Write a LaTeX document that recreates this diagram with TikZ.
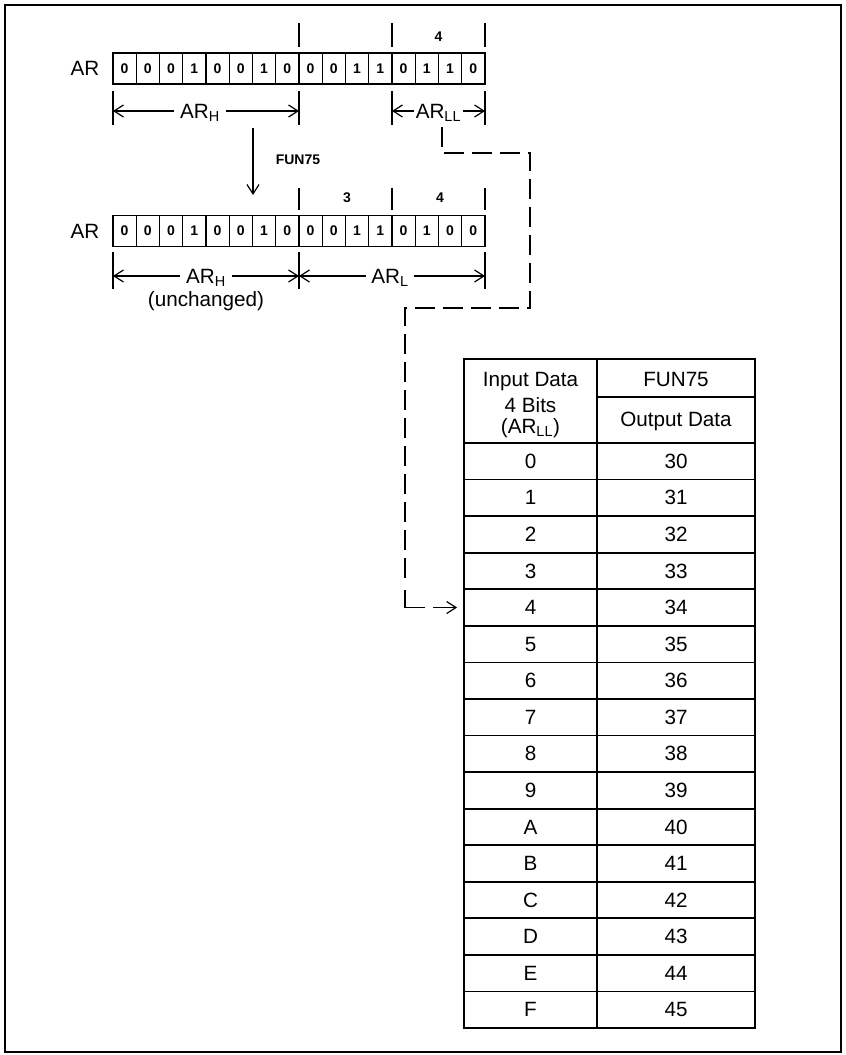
\documentclass[tikz,border=0pt]{standalone}
\usepackage{fontspec}
\setmainfont{Liberation Sans}
\usetikzlibrary{arrows.meta}
\begin{document}
\begin{tikzpicture}[x=0.75pt,y=-0.75pt,
  every node/.style={inner sep=0pt},
  txt/.style={font=\fontsize{15.5}{18}\selectfont},
  smallbold/.style={font=\fontsize{10.5}{12}\selectfont\bfseries},
  bitcell/.style={draw, line width=1.1pt, minimum width=17.44pt, minimum height=23.5pt, font=\fontsize{10.5}{12}\selectfont\bfseries},
  tick/.style={line width=1.1pt},
  dim/.style={line width=0.9pt, -{Straight Barb[length=7pt,width=9pt]}},
  dimlbl/.style={txt, anchor=base, inner xsep=4pt},
  dashline/.style={line width=1.4pt, dash pattern=on 15pt off 6pt},
  frame/.style={line width=1.4pt},
  tline/.style={line width=1.3pt},
]
\useasboundingbox (0,0) rectangle (845,1055);
\draw[frame] (5,5) rectangle (841,1052);

% ---------- register 1 ----------
\node[txt] (ar1) at (85,68.5) {AR};
\foreach \b [count=\i] in {0,0,0,1,0,0,1,0,0,0,1,1,0,1,1,0}
  \node[bitcell] (ra\i) at ({113+(\i-0.5)*23.25},68.5) {\b};
\draw[tick] (299,23) -- (299,47);
\draw[tick] (392,23) -- (392,47);
\draw[tick] (485,23) -- (485,47);
\node[smallbold] (top4a) at (438.5,37) {4};

% dimension row 1
\coordinate (a1A) at (113,111);
\coordinate (a1B) at (299,111);
\coordinate (a1C) at (392,111);
\coordinate (a1D) at (485,111);
\foreach \c in {a1A,a1B,a1C,a1D}
  \draw[tick] ([yshift=15pt]\c) -- ([yshift=-10.5pt]\c);
\node[dimlbl] (arh1) at (200,118.4) {AR\textsubscript{H}};
\node[dimlbl, inner xsep=1pt] (arll) at (438.5,118.4) {AR\textsubscript{LL}};
\draw[dim] (arh1.west |- a1A) -- (a1A);
\draw[dim] (arh1.east |- a1B) -- (a1B);
\draw[dim] (arll.west |- a1C) -- (a1C);
\draw[dim] (arll.east |- a1D) -- (a1D);

% FUN75 arrow
\coordinate (f0) at (253,128);
\coordinate (f1) at (253,195);
\draw[dim] (f0) -- (f1);
\node[smallbold] (fun) at (298,160) {FUN75};

% ---------- register 2 ----------
\node[txt] (ar2) at (85,231) {AR};
\foreach \b [count=\i] in {0,0,0,1,0,0,1,0,0,0,1,1,0,1,0,0}
  \node[bitcell] (rb\i) at ({113+(\i-0.5)*23.25},231) {\b};
\draw[tick] (299,188) -- (299,210);
\draw[tick] (392,188) -- (392,210);
\draw[tick] (485,188) -- (485,210);
\node[smallbold] (top3) at (347,198) {3};
\node[smallbold] (top4b) at (440,198) {4};

% dimension row 2
\coordinate (a2A) at (113,276);
\coordinate (a2B) at (299,276);
\coordinate (a2D) at (485,276);
\foreach \c in {a2A,a2B,a2D}
  \draw[tick] ([yshift=18pt]\c) -- ([yshift=-10pt]\c);
\node[dimlbl] (arh2) at (206,283.4) {AR\textsubscript{H}};
\node[dimlbl] (arl) at (390,283.4) {AR\textsubscript{L}};
\node[txt] (unch) at (206,301) {(unchanged)};
\draw[dim] (arh2.west |- a2A) -- (a2A);
\draw[dim] (arh2.east |- a2B) -- (a2B);
\draw[dim] (arl.west |- a2B) -- (a2B);
\draw[dim] (arl.east |- a2D) -- (a2D);

% ---------- table ----------
\draw[tline] (464,359) rectangle (755,1028);
\draw[tline] (597,359) -- (597,1028);
\draw[tline] (597,397) -- (755,397);
\foreach \i in {0,...,15}
  \draw[tline] (464,{443+\i*36.5625}) -- (755,{443+\i*36.5625});
\node[txt] (h1) at (530.5,382) {Input Data};
\node[txt] (h2) at (530.5,405) {4 Bits};
\node[txt] (h3) at (530.5,428) {(AR\textsubscript{LL})};
\node[txt] (h4) at (676,379) {FUN75};
\node[txt] (h5) at (676,421) {Output Data};
\foreach \a/\b [count=\i from 0] in {0/30,1/31,2/32,3/33,4/34,5/35,6/36,7/37,8/38,9/39,A/40,B/41,C/42,D/43,E/44,F/45}{
  \node[txt, minimum width=99.75pt, minimum height=27.42pt] (in\i) at (530.5,{443+(\i+0.5)*36.5625}) {\a};
  \node[txt, minimum width=118.5pt, minimum height=27.42pt] (out\i) at (676,{443+(\i+0.5)*36.5625}) {\b};
}

% ---------- dashed connector ----------
\coordinate (d0) at (442,127);
\coordinate (d4) at (405,584);
\coordinate (d5) at (405,590);
\draw[dashline] (d0) |- (530,153) |- (405,308) -- (d4);
\draw[line width=1.4pt] (d5) |- ([xshift=-29pt]in4.west);
\draw[dim] ([xshift=-23pt]in4.west) -- ([xshift=-5pt]in4.west);
\end{tikzpicture}
\end{document}
